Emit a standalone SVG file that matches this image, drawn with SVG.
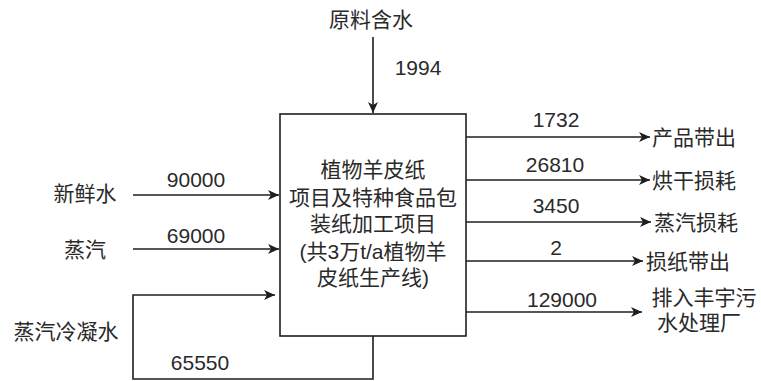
<svg xmlns="http://www.w3.org/2000/svg" width="761" height="381" viewBox="0 0 761 381">
<style>
text{font-family:"Liberation Sans","Noto Sans CJK SC",sans-serif;font-size:21px;fill:#2a2a2a;}
.c{text-anchor:middle}
.l{text-anchor:start}
.e{fill:none;stroke:#1e1e1e;stroke-width:1.6}
.box{fill:#fff;stroke:#1e1e1e;stroke-width:1.6}
</style>
<defs>
<marker id="ah" markerUnits="userSpaceOnUse" markerWidth="14" markerHeight="12" viewBox="-1 -6 13 12" refX="11" refY="0" orient="auto">
<path d="M0,-5 L11,0 L0,5 L3,0 Z" fill="#1e1e1e"/>
</marker>
</defs>
<rect width="761" height="381" fill="#fff"/>
<g id="connectors">
<path class="e" d="M373,37 V113" marker-end="url(#ah)"/>
<path class="e" d="M133,195 H279" marker-end="url(#ah)"/>
<path class="e" d="M133,249 H279" marker-end="url(#ah)"/>
<path class="e" d="M373,336 V379 H133 V295 H275" marker-end="url(#ah)"/>
<path class="e" d="M466,137 H650" marker-end="url(#ah)"/>
<path class="e" d="M466,180 H650" marker-end="url(#ah)"/>
<path class="e" d="M466,222 H651" marker-end="url(#ah)"/>
<path class="e" d="M466,261 H643" marker-end="url(#ah)"/>
<path class="e" d="M466,312 H642" marker-end="url(#ah)"/>
<text class="c" x="418" y="75">1994</text>
<text class="c" x="196" y="187">90000</text>
<text class="c" x="196" y="243">69000</text>
<text class="c" x="200" y="370">65550</text>
<text class="c" x="556" y="127">1732</text>
<text class="c" x="555" y="172">26810</text>
<text class="c" x="556" y="213">3450</text>
<text class="c" x="556" y="255">2</text>
<text class="c" x="562" y="307">129000</text>
</g>
<g id="main">
<rect class="box" x="280" y="114" width="186" height="222"/>
<text class="c" x="373" y="177">植物羊皮纸</text>
<text class="c" x="373" y="205">项目及特种食品包</text>
<text class="c" x="373" y="231">装纸加工项目</text>
<text class="c" x="373" y="259">(共3万t/a植物羊</text>
<text class="c" x="373" y="285">皮纸生产线)</text>
</g>
<g id="raw"><text class="c" x="371" y="27">原料含水</text></g>
<g id="fresh"><text class="c" x="85" y="201">新鲜水</text></g>
<g id="steam"><text class="c" x="85" y="257">蒸汽</text></g>
<g id="condensate"><text class="c" x="66" y="339">蒸汽冷凝水</text></g>
<g id="product"><text class="l" x="652" y="145">产品带出</text></g>
<g id="drying"><text class="l" x="652" y="188">烘干损耗</text></g>
<g id="steamloss"><text class="l" x="654" y="230">蒸汽损耗</text></g>
<g id="broke"><text class="l" x="646" y="269">损纸带出</text></g>
<g id="wwtp">
<text class="c" x="704" y="305">排入丰宇污</text>
<text class="c" x="699" y="330">水处理厂</text>
</g>
</svg>
